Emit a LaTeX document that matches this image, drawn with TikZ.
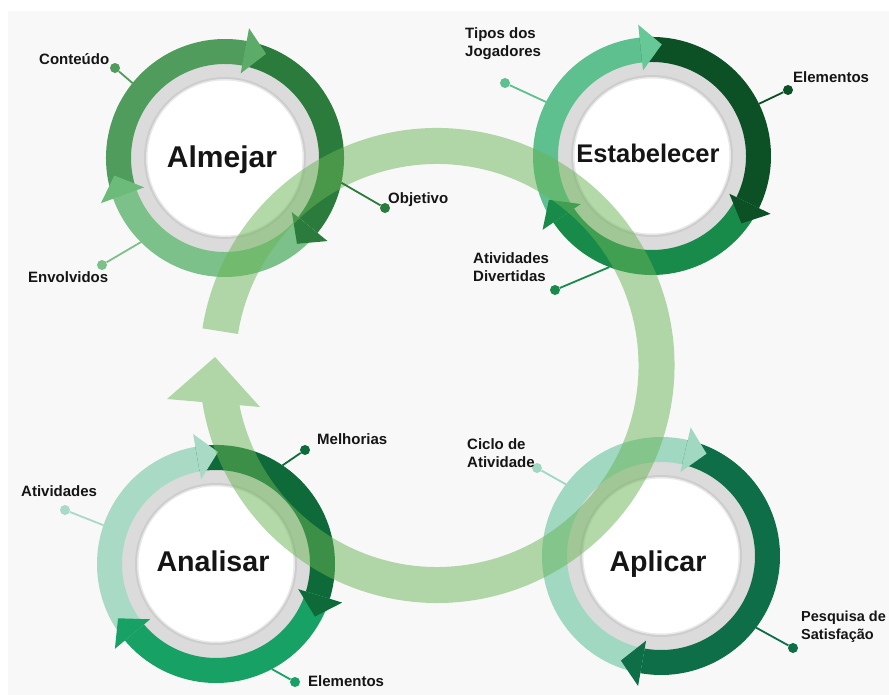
\documentclass[tikz,border=0pt]{standalone}
\usepackage{fontspec}
\setmainfont{Liberation Sans}
\usetikzlibrary{calc}
\definecolor{bgc}{HTML}{F8F8F8}
\definecolor{ringgray}{HTML}{DBDBDB}
\definecolor{ringshade}{HTML}{CDCDCD}
\definecolor{ringsoft}{HTML}{E8E8E8}
\definecolor{bandc}{RGB}{105,180,85}
\definecolor{txt}{HTML}{151515}
\definecolor{cMedA}{HTML}{4F9C5D}
\definecolor{cMedAr}{HTML}{5CAB69}
\definecolor{cDarkA}{HTML}{2A7B3C}
\definecolor{cLightA}{HTML}{7CC189}
\definecolor{cLightAr}{HTML}{6CBB7A}
\definecolor{cTealE}{HTML}{5EC08F}
\definecolor{cTealEr}{HTML}{66C897}
\definecolor{cDarkE}{HTML}{0C5026}
\definecolor{cGreenE}{HTML}{188B4B}
\definecolor{cLightN}{HTML}{A8DAC5}
\definecolor{cDarkN}{HTML}{0E6B39}
\definecolor{cGreenN}{HTML}{18A164}
\definecolor{cLightP}{HTML}{A1D8C2}
\definecolor{cDarkP}{HTML}{0D6E48}
\newcommand\rsSeg[4]{\fill[#4] ([shift={(#1)}]#2:119) arc[start angle=#2,end angle=#3,radius=119] -- ([shift={(#1)}]#3:94) arc[start angle=#3,end angle=#2,radius=94] -- cycle;}
\newcommand\rsArrow[4]{\fill[#4] ([shift={(#1)}]#2:132) -- ([shift={(#1)}]#3:112) -- ([shift={(#1)}]#2:86) -- cycle;}
\newcommand\rsBase[1]{\fill[ringgray] (#1) circle[radius=95]; \fill[ringshade] (#1) circle[radius=81]; \fill[ringsoft] (#1) circle[radius=79]; \fill[white] (#1) circle[radius=77.5];}
\begin{document}
\begin{tikzpicture}[x=1pt,y=1pt,
  lab/.style={font=\bfseries\fontsize{15}{18}\selectfont, inner sep=0pt, align=left, text=txt, anchor=base west},
  ttl/.style={font=\bfseries\fontsize{29}{34}\selectfont, inner sep=0pt, anchor=base, text=txt},
  dot/.style={circle, inner sep=0pt, minimum size=10pt},
  leader/.style={line width=1.8pt}]
\fill[white] (0,0) rectangle (889,695);
\fill[bgc] (8,0) rectangle (889,684);
\useasboundingbox (0,0) rectangle (889,695);

\coordinate (alm) at (225,537);
\coordinate (est) at (652,539);
\coordinate (ana) at (216,131);
\coordinate (apl) at (661,139);
\coordinate (bc) at (437,329.5);

% Almejar ring
\rsBase{alm}
\rsSeg{alm}{200}{79.5}{cMedA}
\rsSeg{alm}{79.5}{-39}{cDarkA}
\rsSeg{alm}{-39}{-160}{cLightA}
\rsArrow{alm}{79.5}{68.5}{cMedAr}
\rsArrow{alm}{-39}{-50}{cDarkA}
\rsArrow{alm}{200}{189}{cLightAr}

% Estabelecer ring
\rsBase{est}
\rsSeg{est}{214}{96}{cTealE}
\rsSeg{est}{96}{-26}{cDarkE}
\rsSeg{est}{-26}{-146}{cGreenE}
\rsArrow{est}{96}{85}{cTealEr}
\rsArrow{est}{-26}{-37}{cDarkE}
\rsArrow{est}{214}{203}{cGreenE}

% Analisar ring
\rsBase{ana}
\rsSeg{ana}{220}{100}{cLightN}
\rsSeg{ana}{100}{-17}{cDarkN}
\rsSeg{ana}{-17}{-140}{cGreenN}
\rsArrow{ana}{100}{89}{cLightN}
\rsArrow{ana}{-17}{-28}{cDarkN}
\rsArrow{ana}{220}{209}{cGreenN}

% Aplicar ring
\rsBase{apl}
\rsSeg{apl}{260}{77}{cLightP}
\rsSeg{apl}{77}{-100}{cDarkP}
\rsArrow{apl}{77}{66}{cLightP}
\rsArrow{apl}{-100}{-111}{cDarkP}

% big cycle band with arrow
\fill[bandc, opacity=0.5] ([shift={(bc)}]171:237.5) arc[start angle=171,end angle=-171.5,radius=237.5]
  -- ([shift={(bc)}]-169:201.5) arc[start angle=-169,end angle=171,radius=201.5] -- cycle
  (167,296) -- (215,338) -- (260,288) -- cycle;

% titles
\node[ttl, font=\bfseries\fontsize{30}{34}\selectfont] (tAlm) at (222,527) {Almejar};
\node[ttl, font=\bfseries\fontsize{25.5}{30}\selectfont] (tEst) at (648,532) {Estabelecer};
\node[ttl, font=\bfseries\fontsize{28.6}{34}\selectfont] (tAna) at (213,123) {Analisar};
\node[ttl, font=\bfseries\fontsize{28.6}{34}\selectfont] (tApl) at (658,123) {Aplicar};

% Almejar labels
\node[dot, fill=cMedA] (dCont) at (115,627) {};
\draw[leader, cMedA] (dCont) -- ([shift={(alm)}]141:119);
\node[lab] (lCont) at (39,630) {Conteúdo};
\node[dot, fill=cDarkA] (dObj) at (385,487) {};
\draw[leader, cDarkA] ([shift={(alm)}]-12:119) -- (dObj);
\node[lab] (lObj) at (388,491) {Objetivo};
\node[dot, fill=cLightA] (dEnv) at (102,430) {};
\draw[leader, cLightA] (dEnv) -- ([shift={(alm)}]225:119);
\node[lab] (lEnv) at (28,412) {Envolvidos};

% Estabelecer labels
\node[dot, fill=cTealE] (dTip) at (505,612) {};
\draw[leader, cTealE] (dTip) -- ([shift={(est)}]153:119);
\node[lab] (lTip) at (465,638) {Tipos dos\\Jogadores};
\node[dot, fill=cDarkE] (dEle) at (788,605) {};
\draw[leader, cDarkE] ([shift={(est)}]26:119) -- (dEle);
\node[lab] (lEle) at (793,612) {Elementos};
\node[dot, fill=cGreenE] (dDiv) at (555,405) {};
\draw[leader, cGreenE] (dDiv) -- ([shift={(est)}]249:119);
\node[lab] (lDiv) at (473,413) {Atividades\\Divertidas};

% Analisar labels
\node[dot, fill=cDarkN] (dMel) at (305,245) {};
\draw[leader, cDarkN] ([shift={(ana)}]56:119) -- (dMel);
\node[lab] (lMel) at (317,250) {Melhorias};
\node[dot, fill=cLightN] (dAtv) at (65,185) {};
\draw[leader, cLightN] (dAtv) -- ([shift={(ana)}]161:119);
\node[lab] (lAtv) at (21,198) {Atividades};
\node[dot, fill=cGreenN] (dEl2) at (295,13) {};
\draw[leader, cGreenN] ([shift={(ana)}]-62:119) -- (dEl2);
\node[lab] (lEl2) at (308,8) {Elementos};

% Aplicar labels
\node[dot, fill=cLightP] (dCic) at (537,227) {};
\draw[leader, cLightP] (dCic) -- ([shift={(apl)}]143:119);
\node[lab] (lCic) at (467,227) {Ciclo de\\Atividade};
\node[dot, fill=cDarkP] (dPes) at (793,47) {};
\draw[leader, cDarkP] ([shift={(apl)}]-37:119) -- (dPes);
\node[lab, font=\bfseries\fontsize{14.5}{18}\selectfont] (lPes) at (801,55) {Pesquisa de\\Satisfação};
\end{tikzpicture}
\end{document}
